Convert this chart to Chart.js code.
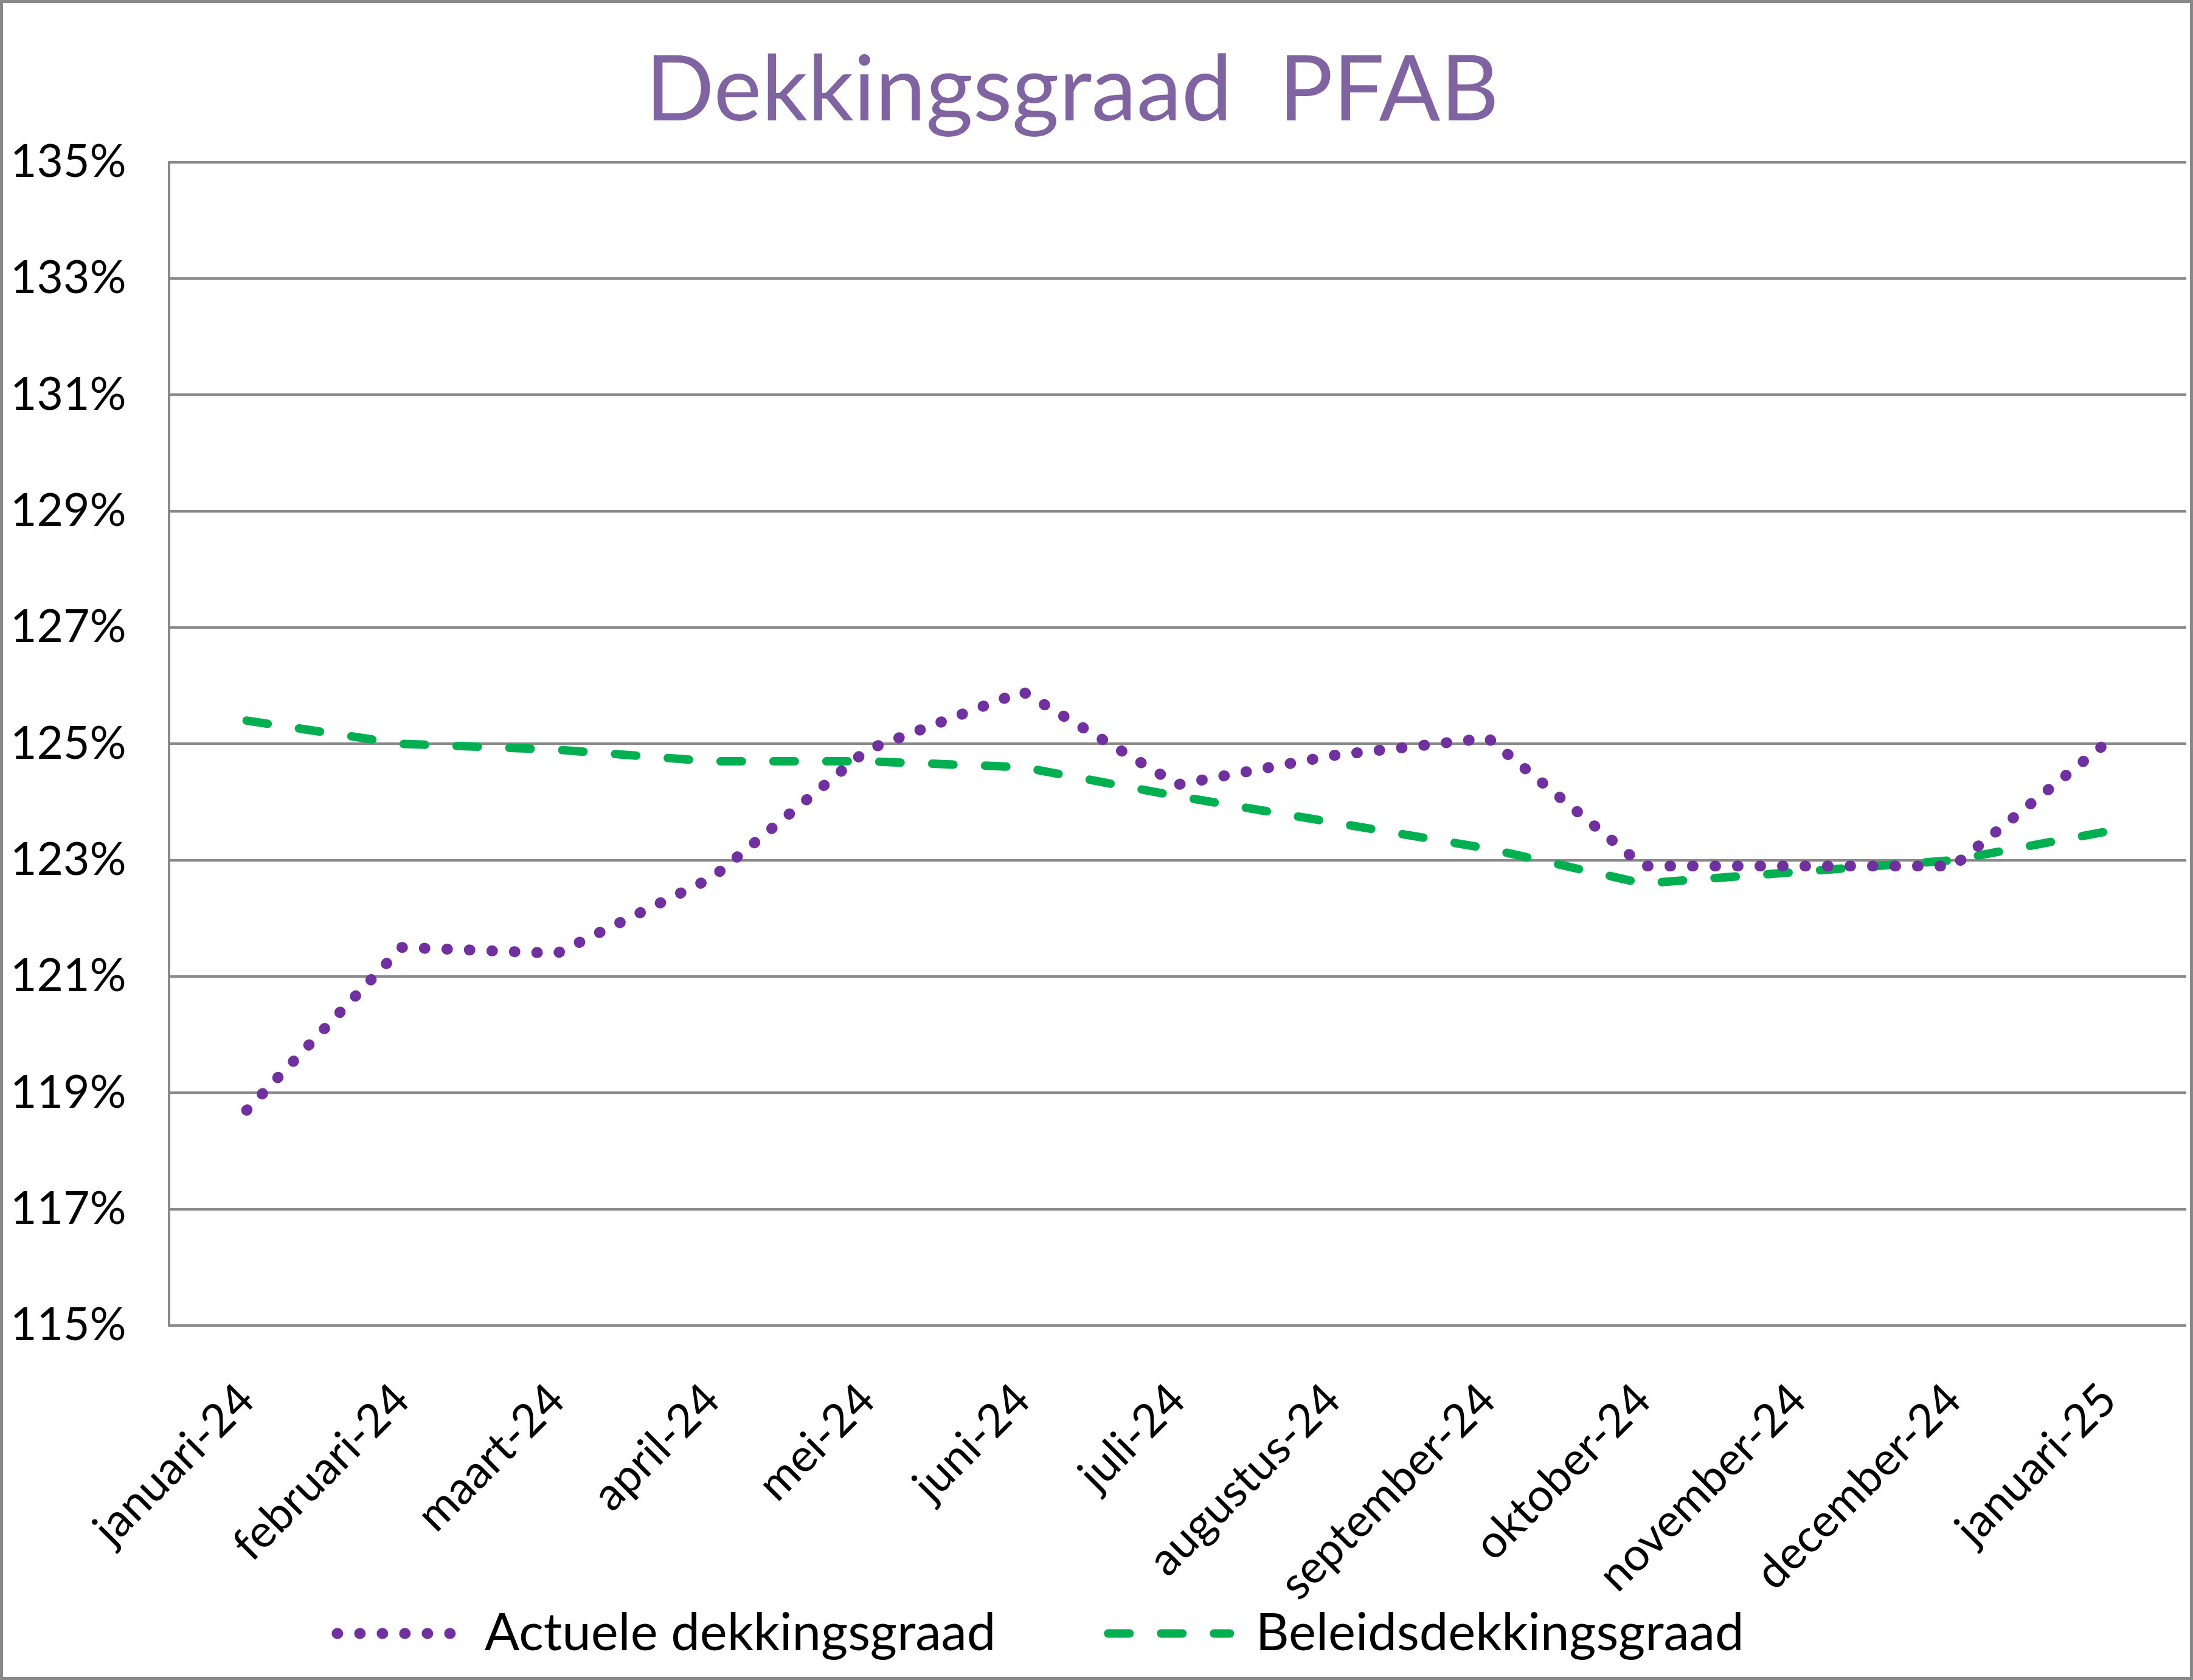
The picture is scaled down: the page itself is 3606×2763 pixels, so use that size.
<!DOCTYPE html>
<html>
<head>
<meta charset="utf-8">
<script src="https://cdn.jsdelivr.net/npm/chart.js@4/dist/chart.umd.min.js"></script>
<style>
  html, body { margin: 0; padding: 0; background: #fff; }
  #wrap { width: 3606px; height: 2763px; box-sizing: border-box; border: 5px solid #898989; background: #fff; }
  canvas { display: block; }
</style>
</head>
<body>
<div id="wrap"><canvas id="chart" width="3596" height="2753"></canvas></div>
<script>
const months = ['januari-24', 'februari-24', 'maart-24', 'april-24', 'mei-24', 'juni-24', 'juli-24',
  'augustus-24', 'september-24', 'oktober-24', 'november-24', 'december-24', 'januari-25'];
const actueel = [118.7, 121.5, 121.4, 122.7, 124.9, 125.9, 124.3, 124.8, 125.1, 122.9, 122.9, 122.9, 125.05];
const beleid = [125.4, 125.0, 124.9, 124.7, 124.7, 124.6, 124.1, 123.65, 123.2, 122.6, 122.8, 123.0, 123.5];
const yMin = 115;
const yMax = 135;
const yStep = 2;

const gridColor = '#898989';
const font = (size) => ({ family: 'Lato', size: size, weight: 'normal' });

// Excel puts title and legend a bit left of the middle, and the x labels
// need more room than the layout leaves once the wide legend is placed
const nudge = {
  id: 'nudge',
  afterLayout(chart) {
    const lg = chart.legend;
    const dy = 2681 - (lg.top + lg.options.labels.padding + 42);
    lg.top += dy; lg.bottom += dy;
    lg.left -= 98; lg.right -= 98;
    const t = chart.titleBlock;
    t.left -= 46; t.right -= 46;
    const xs = chart.scales.x;
    xs.bottom = xs.top + 480;
  }
};

const ctx = document.getElementById('chart').getContext('2d');

new Chart(ctx, {
  type: 'line',
  data: {
    labels: months,
    datasets: [
      {
        label: 'Actuele dekkingsgraad',
        data: actueel,
        borderColor: '#7030A0',
        backgroundColor: '#7030A0',
        borderWidth: 18,
        borderDash: [1, 36],
        borderCapStyle: 'round',
        pointRadius: 0,
        tension: 0,
      },
      {
        label: 'Beleidsdekkingsgraad',
        data: beleid,
        borderColor: '#00B050',
        backgroundColor: '#00B050',
        borderWidth: 14,
        borderDash: [35, 52],
        borderCapStyle: 'round',
        pointRadius: 0,
        tension: 0,
      },
    ],
  },
  options: {
    responsive: false,
    animation: false,
    layout: { padding: { left: 12, right: 0, top: 0, bottom: 0 } },
    plugins: {
      title: {
        display: true,
        text: 'Dekkingsgraad  PFAB',
        color: '#8064A2',
        font: { family: 'Lato', size: 149, weight: 'normal', lineHeight: 1.2 },
        padding: { top: 56, bottom: 27 },
      },
      legend: {
        position: 'bottom',
        labels: {
          usePointStyle: true,
          pointStyleWidth: 200,
          color: '#000',
          font: font(85),
          padding: 185,
          generateLabels: (chart) => chart.data.datasets.map((ds, i) => ({
            text: ds.label,
            datasetIndex: i,
            fillStyle: ds.borderColor,
            strokeStyle: ds.borderColor,
            lineWidth: ds.borderWidth,
            lineDash: ds.borderDash,
            lineCap: ds.borderCapStyle,
            pointStyle: 'line',
            hidden: false,
          })),
        },
      },
      tooltip: { enabled: false },
    },
    scales: {
      x: {
        offset: true,
        grid: { display: false },
        border: { display: true, color: gridColor, width: 4 },
        ticks: {
          color: '#000',
          font: font(75),
          minRotation: 45,
          maxRotation: 45,
          autoSkip: false,
          padding: 70,
        },
        afterFit: (s) => { s.height = 298; },
      },
      y: {
        min: yMin,
        max: yMax,
        ticks: {
          stepSize: yStep,
          callback: (v) => v + '%',
          crossAlign: 'far',
          color: '#000',
          font: font(75),
        },
        grid: { color: gridColor, lineWidth: 4, drawTicks: false },
        border: { color: gridColor, width: 4 },
        afterFit: (s) => { s.width = 261; },
      },
    },
  },
  plugins: [nudge],
});
</script>
</body>
</html>
